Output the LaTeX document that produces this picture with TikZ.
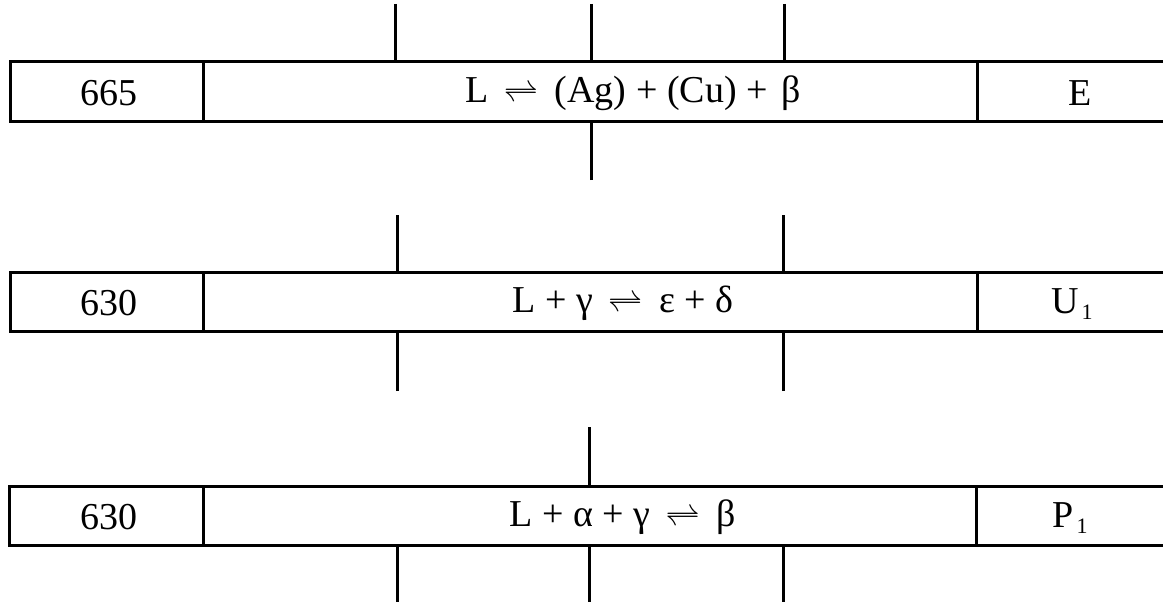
\documentclass[tikz,border=0pt]{standalone}
\usepackage{graphicx}
\usepackage{fontspec}
\setmainfont{Liberation Serif}
\newcommand{\eqarrow}{\hspace{15pt}\scalebox{1.4}{\fontsize{24}{24}\selectfont$\rightleftharpoons$}\hspace{17pt}}
\newcommand{\subone}{\hspace{3pt}\raisebox{-0.35ex}{\fontsize{22}{24}\selectfont 1}}
\begin{document}
\begin{tikzpicture}[x=1pt,y=-1pt,line width=3pt,
  cell/.style={draw,rectangle,minimum height=59pt,inner sep=0pt,outer sep=0pt},
  lbl/.style={inner sep=0pt,font=\fontsize{38}{42}\selectfont},
  tick/.style={line width=3pt}]
\useasboundingbox (0,0) rectangle (1163,602);
% ---------- row 1 ----------
\node[cell,minimum width=193pt] (n1) at (106.5,91.5) {};
\node[cell,minimum width=774pt] (m1) at (590,91.5) {};
\draw (m1.north east) -- (1166,62);
\draw (m1.south east) -- (1166,121);
\node[lbl] (t1) at (109,93) {665};
\node[lbl] (r1) at (633,93) {L\eqarrow(Ag) + (Cu) + \hspace{4pt}β};
\node[lbl] (e1) at (1080,93) {E};
\coordinate (a1) at (395,4);
\coordinate (b1) at (591,4);
\coordinate (c1) at (784,4);
\coordinate (d1) at (591,180);
\draw[tick] (a1) -- (a1 |- m1.north);
\draw[tick] (b1) -- (b1 |- m1.north);
\draw[tick] (c1) -- (c1 |- m1.north);
\draw[tick] (d1) -- (d1 |- m1.south);
% ---------- row 2 ----------
\node[cell,minimum width=193pt] (n2) at (106.5,301.5) {};
\node[cell,minimum width=774pt] (m2) at (590,301.5) {};
\draw (m2.north east) -- (1166,272);
\draw (m2.south east) -- (1166,331);
\node[lbl] (t2) at (109,303) {630};
\node[lbl] (r2) at (623,303) {L + γ\eqarrow ε + δ};
\node[lbl] (u2) at (1072,304) {U\subone};
\coordinate (a2) at (397,215);
\coordinate (c2) at (783,215);
\coordinate (a2b) at (397,391);
\coordinate (c2b) at (783,391);
\draw[tick] (a2) -- (a2 |- m2.north);
\draw[tick] (c2) -- (c2 |- m2.north);
\draw[tick] (a2b) -- (a2b |- m2.south);
\draw[tick] (c2b) -- (c2b |- m2.south);
% ---------- row 3 ----------
\node[cell,minimum width=194pt] (n3) at (106,515.5) {};
\node[cell,minimum width=773pt] (m3) at (589.5,515.5) {};
\draw (m3.north east) -- (1166,486);
\draw (m3.south east) -- (1166,545);
\node[lbl] (t3) at (109,517) {630};
\node[lbl] (r3) at (623,517) {L + α + γ\eqarrow β};
\node[lbl] (p3) at (1070,518) {P\subone};
\coordinate (b3) at (589,427);
\coordinate (a3b) at (397,604);
\coordinate (b3b) at (589,604);
\coordinate (c3b) at (783,604);
\draw[tick] (b3) -- (b3 |- m3.north);
\draw[tick] (a3b) -- (a3b |- m3.south);
\draw[tick] (b3b) -- (b3b |- m3.south);
\draw[tick] (c3b) -- (c3b |- m3.south);
\end{tikzpicture}
\end{document}
